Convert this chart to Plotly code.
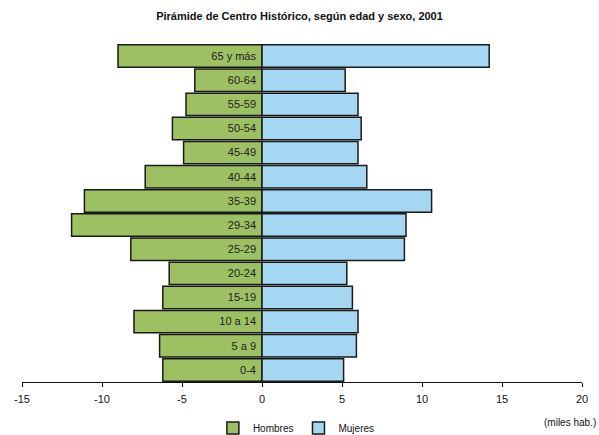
import plotly.graph_objects as go

# Age groups, bottom to top
grupos = ["0-4", "5 a 9", "10 a 14", "15-19", "20-24", "25-29", "29-34",
          "35-39", "40-44", "45-49", "50-54", "55-59", "60-64", "65 y más"]

# Population in thousands (men drawn to the left as negatives)
hombres = [-6.2, -6.4, -8.0, -6.2, -5.8, -8.2, -11.9,
           -11.1, -7.3, -4.9, -5.6, -4.75, -4.2, -9.0]
mujeres = [5.1, 5.9, 6.0, 5.65, 5.3, 8.9, 9.0,
           10.6, 6.55, 6.0, 6.2, 6.0, 5.2, 14.2]

x_ticks = [-15, -10, -5, 0, 5, 10, 15, 20]

FONT = "Liberation Sans Narrow, Arial Narrow, Liberation Sans, Arial, sans-serif"
VERDE = "#9dc062"
AZUL = "#a5d7f3"

fig = go.Figure()
fig.add_trace(go.Bar(
    y=grupos, x=hombres, name="Hombres", orientation="h",
    marker=dict(color=VERDE, line=dict(color="#1a1a1a", width=1.5)),
    hoverinfo="skip",
))
fig.add_trace(go.Bar(
    y=grupos, x=mujeres, name="Mujeres", orientation="h",
    marker=dict(color=AZUL, line=dict(color="#1a1a1a", width=1.5)),
    hoverinfo="skip",
))

fig.update_layout(
    width=599, height=435,
    margin=dict(l=22, r=17, t=44, b=53, autoexpand=False),
    paper_bgcolor="white", plot_bgcolor="white",
    barmode="overlay", bargap=0.07,
    font=dict(family=FONT, color="#222222", size=11),
    title=dict(
        text="<b>Pirámide de Centro Histórico, según edad y sexo, 2001</b>",
        x=0.5, xanchor="center", y=1 - 16 / 435, yanchor="middle",
        font=dict(family=FONT, size=11, color="#111111"),
    ),
    xaxis=dict(
        range=[-15, 20], tickvals=x_ticks,
        ticktext=[str(v) for v in x_ticks],
        showgrid=False, zeroline=False,
        showline=True, linecolor="#111111", linewidth=1.2,
        ticks="outside", ticklen=4, tickcolor="#111111",
        ticklabelstandoff=3,
        tickfont=dict(family=FONT, size=11, color="#111111"),
        fixedrange=True,
    ),
    yaxis=dict(
        range=[-0.5, 13.5], categoryorder="array", categoryarray=grupos,
        anchor="free", position=15 / 35, side="left",
        showgrid=False, zeroline=False, showline=False, ticks="",
        ticklabelstandoff=6,
        tickfont=dict(family=FONT, size=11, color="#222222"),
        fixedrange=True,
    ),
    legend=dict(
        orientation="h", x=0.49, xanchor="center",
        y=-0.136, yanchor="middle",
        font=dict(family=FONT, size=10, color="#111111"),
        itemwidth=30, tracegroupgap=0, entrywidth=0,
    ),
    annotations=[dict(
        text="(miles hab.)", xref="paper", yref="paper",
        x=0.979, y=-0.121, xanchor="center", yanchor="middle",
        showarrow=False, font=dict(family=FONT, size=10, color="#111111"),
    )],
)

fig.write_html("out.html")
